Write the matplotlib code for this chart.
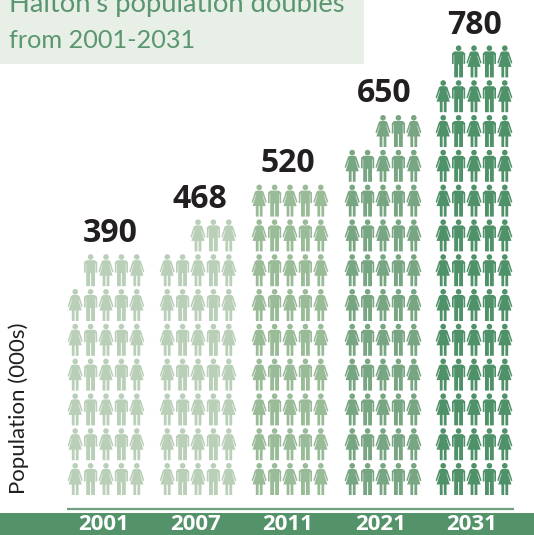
#!/usr/bin/env python3
"""Halton population pictogram, one icon per block of people, 534x535."""
import matplotlib
matplotlib.use("Agg")
import matplotlib.pyplot as plt
from matplotlib.patches import Circle, Polygon, Rectangle

years = ["2001", "2007", "2011", "2021", "2031"]
population = [390, 468, 520, 650, 780]
icon_counts = [34, 38, 45, 53, 64]
colors = ["#b9cfb8", "#b9cfb8", "#9abb98", "#78a682", "#4f9168"]

GREEN = "#54936a"
PER_ROW = 5
col_x = [106, 198, 290, 383, 474]   # column centres, px
label_xy = [(110, 233), (200, 199), (288, 164), (384, 93), (474, 26)]
dx = 15.4
dy = 34.8
base_top = 463   # head top of the bottom row

MAN = [(-4.2, 6), (4.2, 6), (6.6, 8), (6.6, 18.5), (4.9, 18.5), (4.9, 9.5), (4.4, 9.5), (4.4, 32), (0.5, 32),
       (0.5, 19), (-0.5, 19), (-0.5, 32), (-4.4, 32), (-4.4, 9.5), (-4.9, 9.5), (-4.9, 18.5), (-6.6, 18.5), (-6.6, 8)]
WOMAN = [(-2.5, 6), (2.5, 6), (4.2, 7), (7.6, 17.5), (6.3, 18.2), (3.6, 10.5), (3.2, 10.5), (6.6, 21.5), (3.4, 21.5),
         (3.4, 32), (0.6, 32), (0.6, 21.5), (-0.6, 21.5), (-0.6, 32), (-3.4, 32), (-3.4, 21.5), (-6.6, 21.5),
         (-3.2, 10.5), (-3.6, 10.5), (-6.3, 18.2), (-7.6, 17.5), (-4.2, 7)]


def person(ax, x, top, shape, c):
    ax.add_patch(Circle((x, top + 2.8), 2.8, fc=c, ec="none"))
    ax.add_patch(Polygon([(x + px, top + py) for px, py in shape], closed=True, fc=c, ec="none"))


fig = plt.figure(figsize=(5.34, 5.35), dpi=100)
ax = fig.add_axes([0, 0, 1, 1])
ax.set_xlim(0, 534)
ax.set_ylim(535, 0)
ax.axis("off")

# title box
ax.add_patch(Rectangle((0, 0), 364, 63.5, fc="#e8efe7", ec="none"))
ax.text(9, 12, "Halton\u2019s population doubles", fontsize=19.7, family="Lato", color="#5a9670", va="baseline")
ax.text(9, 47.5, "from 2001-2031", fontsize=18.2, family="Lato", color="#5a9670", va="baseline")

# icons fill from the bottom, a short top row sits to the right
for cx, n, c in zip(col_x, icon_counts, colors):
    full_rows = n // PER_ROW
    for i in range(n):
        row = i // PER_ROW
        col = i % PER_ROW
        if row == full_rows:
            col += PER_ROW - n % PER_ROW
        shape = WOMAN if col % 2 == 0 else MAN
        person(ax, cx + (col - 2) * dx, base_top - row * dy, shape, c)

for (lx, ly), v in zip(label_xy, population):
    ax.text(lx, ly, str(v), fontsize=23, family="Open Sans", weight="bold", color="#231f20", ha="center", va="center")

ax.text(19, 408, "Population (000s)", fontsize=16, family="Lato", color="#231f20", rotation=90, ha="center", va="center")

# baseline and year band
ax.plot([67, 514], [508.5, 508.5], color="#6fa080", lw=1.6, solid_capstyle="butt")
ax.add_patch(Rectangle((0, 513), 534, 22, fc=GREEN, ec="none"))
for cx, y in zip(col_x, years):
    ax.text(cx - 2, 525, y, fontsize=16, family="Open Sans", weight="bold", color="white", ha="center", va="center")

fig.savefig("out.png", dpi=100)
